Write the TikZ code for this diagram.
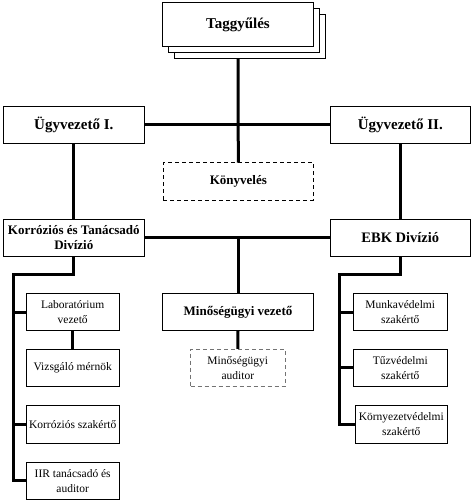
\documentclass[tikz,border=0pt]{standalone}
\usepackage{fontspec}
\setmainfont{Liberation Serif}
\usetikzlibrary{shadows,backgrounds}
\begin{document}
\begin{tikzpicture}[x=1pt,y=-1pt,
  box/.style={draw, line width=0.8pt, fill=white, inner sep=1pt, outer sep=0pt, align=center},
  big/.style={box, font=\fontsize{15}{17}\selectfont\bfseries},
  mid/.style={box, font=\fontsize{13}{15}\selectfont\bfseries},
  small/.style={box, font=\fontsize{11.5}{15}\selectfont},
  dashbox/.style={dash pattern=on 4pt off 3pt},
  conn/.style={line width=3pt}]
\useasboundingbox (0,0) rectangle (474,502);
% top
\node[big, minimum width=150.6pt, minimum height=43.3pt,
  double copy shadow={shadow xshift=6pt, shadow yshift=-6pt}] (tag) at (238,24.4) {Taggyűlés};
\node[big, minimum width=141pt, minimum height=37.3pt] (ug1) at (73.8,124.7) {Ügyvezető I.};
\node[big, minimum width=140.7pt, minimum height=37.3pt] (ug2) at (400.3,124.7) {Ügyvezető II.};
\node[mid, dashbox, minimum width=150pt, minimum height=37.3pt] (konyv) at (238.3,181.3) {Könyvelés};
\node[mid, minimum width=141pt, minimum height=37pt] (kor) at (73.8,237.5) {Korróziós és Tanácsadó\\Divízió};
\node[box, font=\fontsize{14.5}{16}\selectfont\bfseries, minimum width=140.7pt, minimum height=37pt] (ebk) at (400.3,237.5) {EBK Divízió};
% middle column
\node[mid, minimum width=150.6pt, minimum height=37.4pt] (minv) at (238,312) {Minőségügyi vezető};
\node[small, dashbox, draw=black!55, minimum width=94.3pt, minimum height=37.7pt] (mina) at (237.8,367.8) {Minőségügyi\\auditor};
% left column
\node[small, minimum width=93.3pt, minimum height=37.4pt] (lab) at (72.7,312) {Laboratórium\\vezető};
\node[small, minimum width=93.3pt, minimum height=37.7pt] (vizs) at (72.7,367.8) {Vizsgáló mérnök};
\node[small, minimum width=93.3pt, minimum height=37.6pt] (ksz) at (72.7,424.5) {Korróziós szakértő};
\node[small, minimum width=93.3pt, minimum height=37.3pt] (iir) at (72.7,480.7) {IIR tanácsadó és\\auditor};
% right column
\node[small, minimum width=94pt, minimum height=37.4pt] (munk) at (400.3,312) {Munkavédelmi\\szakértő};
\node[small, minimum width=94pt, minimum height=37.7pt] (tuz) at (400.3,367.8) {Tűzvédelmi\\szakértő};
\node[small, minimum width=92pt, minimum height=37.6pt] (korny) at (401.3,424.5) {Környezetvédelmi\\szakértő};
\coordinate (lbus) at (13.3,274);
\coordinate (rbus) at (339.3,274);
\begin{scope}[on background layer]
\draw[conn] (tag.south) -- (konyv.north);
\draw[conn] (ug1.east) -- (ug2.west);
\draw[conn] (ug1.south) -- (kor.north);
\draw[conn] (ug2.south) -- (ebk.north);
\draw[conn] (kor.east) -- (ebk.west);
\draw[conn] (minv.north |- kor.east) -- (minv.north);
\draw[conn] (minv.south) -- (mina.north);
\draw[conn] (kor.south) |- (lbus) -- (lbus |- iir.west) -- (iir.west);
\draw[conn] (lbus |- lab.west) -- (lab.west);
\draw[conn] (lbus |- ksz.west) -- (ksz.west);
\draw[conn] (lab.south) -- (vizs.north);
\draw[conn] (ebk.south) |- (rbus) -- (rbus |- korny.west) -- (korny.west);
\draw[conn] (rbus |- munk.west) -- (munk.west);
\draw[conn] (rbus |- tuz.west) -- (tuz.west);
\end{scope}
\end{tikzpicture}
\end{document}
